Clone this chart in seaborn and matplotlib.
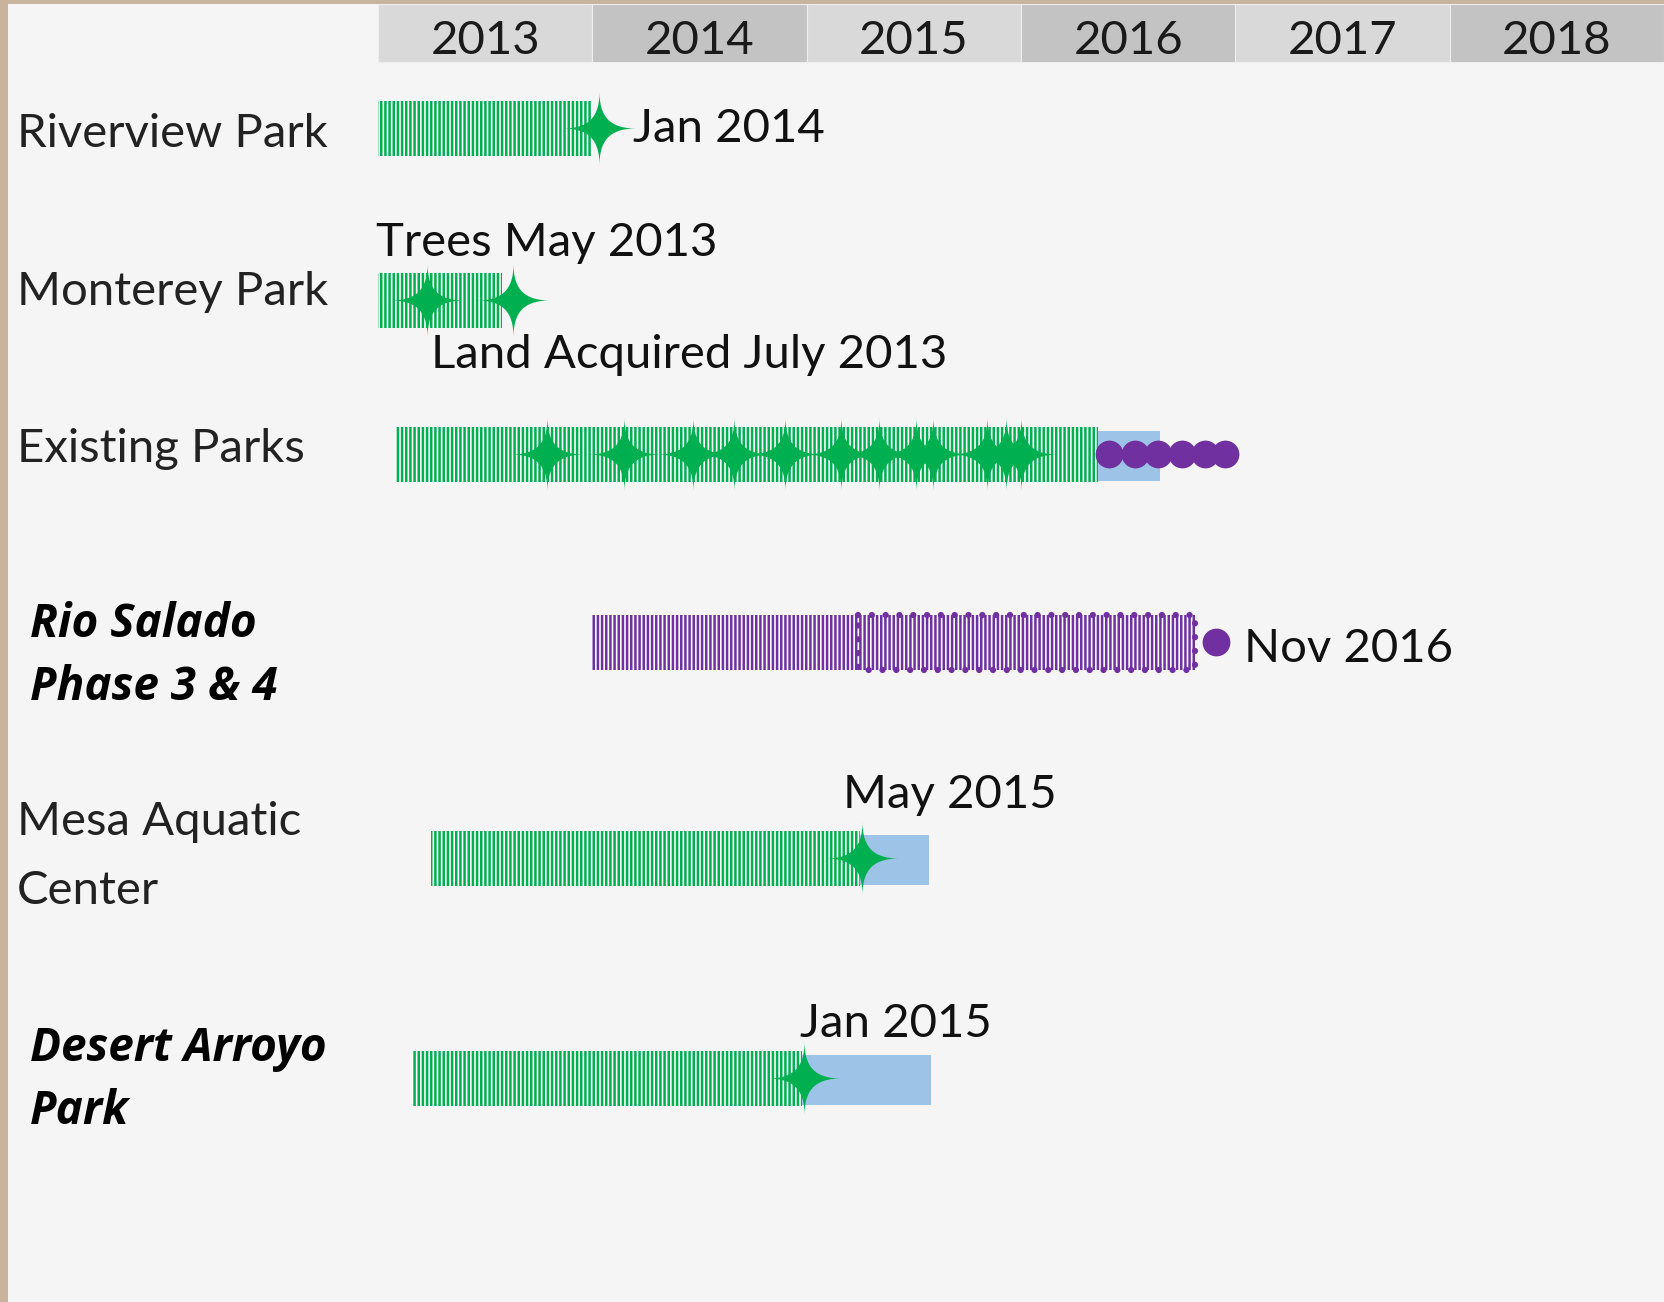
import numpy as np
import pandas as pd
import matplotlib
matplotlib.use("Agg")
import matplotlib.pyplot as plt
import seaborn as sns

# ==========================================
# DATA
# ==========================================
years = [2013, 2014, 2015, 2016, 2017, 2018]

projects = ["Riverview Park", "Monterey Park", "Existing Parks",
            "Rio Salado\nPhase 3 & 4", "Mesa Aquatic\nCenter", "Desert Arroyo\nPark"]
emphasis = [False, False, False, True, False, True]

# hatched (work in progress) bars, decimal years
bar_start = [2013.00, 2013.00, 2013.08, 2014.00, 2013.25, 2013.16]
bar_end = [2014.00, 2013.58, 2016.36, 2016.81, 2015.25, 2014.98]
bar_kind = ["green", "green", "green", "purple", "green", "green"]

# solid blue remainder
rest_row = ["Existing Parks", "Mesa Aquatic\nCenter", "Desert Arroyo\nPark"]
rest_start = [2016.36, 2015.25, 2014.98]
rest_end = [2016.65, 2015.57, 2015.58]

# dotted outline part of Rio Salado
outline_row = ["Rio Salado\nPhase 3 & 4"]
outline_start = [2015.24]
outline_end = [2016.81]

# milestones (stars)
star_row = (["Riverview Park"] + ["Monterey Park"] * 2 + ["Existing Parks"] * 12
            + ["Mesa Aquatic\nCenter", "Desert Arroyo\nPark"])
star_date = [2014.03,
             2013.23, 2013.63,
             2013.79, 2014.15, 2014.47, 2014.66, 2014.90, 2015.16,
             2015.34, 2015.51, 2015.59, 2015.84, 2015.93, 2016.00,
             2015.26, 2014.99]

# planned milestones (dots)
dot_row = ["Existing Parks"] * 6 + ["Rio Salado\nPhase 3 & 4"]
dot_date = [2016.41, 2016.53, 2016.64, 2016.75, 2016.86, 2016.95, 2016.91]

note_text = ["Jan 2014", "Trees May 2013", "Land Acquired July 2013",
             "Nov 2016", "May 2015", "Jan 2015"]
note_row = ["Riverview Park", "Monterey Park", "Monterey Park",
            "Rio Salado\nPhase 3 & 4", "Mesa Aquatic\nCenter", "Desert Arroyo\nPark"]
note_date = [2014.19, 2012.99, 2013.25, 2017.04, 2015.17, 2014.97]

# ==========================================
# LAYOUT / STYLE
# ==========================================
W, H, DPI = 1664, 1302, 100
row_pos = dict(zip(projects, [128, 300, 454, 642, 858, 1078]))  # px from top
note_dy = [14, -44, 68, 20, -50, -41]       # baseline offset from row centre
label_base = [147, 305, 462, 637, 835, 1061]
bar_h = 55
GREEN, PURPLE, BLUE = "#00b050", "#7030a0", "#9dc3e6"
BG, FRAME = "#f5f5f5", "#c9b39c"
cell_colors = ["#d9d9d9", "#c3c3c3"]

x0_px, yr_px = 378, 214.4
xmin = 2013 + (8 - x0_px) / yr_px

sns.set_theme(style="white")
plt.rcParams["font.family"] = ["Lato", "DejaVu Sans"]
plt.rcParams["hatch.linewidth"] = 1.8

fig = plt.figure(figsize=(W / DPI, H / DPI), dpi=DPI, facecolor=FRAME)
ax = fig.add_axes([8 / W, 0, 1 - 8 / W, 1 - 4 / H])
ax.set_facecolor(BG)
ax.set_xlim(xmin, 2019.0)
ax.set_ylim(H, 4)
for sp in ax.spines.values():
    sp.set_visible(False)
ax.set_xticks([])
ax.set_yticks([])

# year header
ax.bar(years, 58, bottom=4, width=1, align="edge",
       color=[cell_colors[i % 2] for i in range(len(years))],
       edgecolor="#eeeeee", linewidth=0.8, zorder=1)
for yr in years:
    ax.text(yr + 0.5, 54, str(yr), ha="center", va="baseline",
            fontsize=34, color="#1a1a1a", zorder=2)

# hatched bars
for s, e, k, p in zip(bar_start, bar_end, bar_kind, projects):
    col = GREEN if k == "green" else PURPLE
    ax.barh(row_pos[p], e - s, left=s, height=bar_h, facecolor="#fbfcfd",
            edgecolor=col, hatch="||||", linewidth=0, zorder=3)

# blue remainder
for s, e, p in zip(rest_start, rest_end, rest_row):
    ax.barh(row_pos[p] + 2, e - s, left=s, height=bar_h - 5, color=BLUE,
            linewidth=0, zorder=2)

# dotted outline
for s, e, p in zip(outline_start, outline_end, outline_row):
    ax.barh(row_pos[p], e - s, left=s, height=bar_h, fill=False,
            edgecolor=PURPLE, linewidth=4.5, linestyle=(0, (0.01, 2.2)),
            capstyle="round", zorder=4)

# four-point star marker with concave sides
t = np.linspace(0, 2 * np.pi, 241)
pw = 4.2
star = np.column_stack([np.sign(np.cos(t)) * np.abs(np.cos(t)) ** pw,
                        np.sign(np.sin(t)) * np.abs(np.sin(t)) ** pw])

stars = pd.DataFrame({"date": star_date, "y": [row_pos[r] for r in star_row]})
sns.scatterplot(data=stars, x="date", y="y", marker=star, s=54 ** 2,
                color=GREEN, linewidth=0, ax=ax, zorder=5, legend=False)

dots = pd.DataFrame({"date": dot_date, "y": [row_pos[r] for r in dot_row]})
sns.scatterplot(data=dots, x="date", y="y", marker="o", s=20 ** 2,
                color=PURPLE, linewidth=0, ax=ax, zorder=5, legend=False)
ax.set_xlabel("")
ax.set_ylabel("")

# notes
for txt, r, d, dy in zip(note_text, note_row, note_date, note_dy):
    ax.text(d, row_pos[r] + dy, txt, ha="left", va="baseline",
            fontsize=34, color="#111111", zorder=6)

# row labels
for p, em, base in zip(projects, emphasis, label_base):
    lines = p.split("\n")
    for i, line in enumerate(lines):
        if em:
            ax.text(2011.376, base + i * 63, line, ha="left", va="baseline",
                    fontsize=33, fontweight="bold", fontstyle="italic",
                    family=["Open Sans", "DejaVu Sans"], color="#000000")
        else:
            ax.text(2011.316, base + i * 69, line, ha="left", va="baseline",
                    fontsize=34, color="#222222")

fig.savefig("out.png", dpi=DPI, facecolor=FRAME)
